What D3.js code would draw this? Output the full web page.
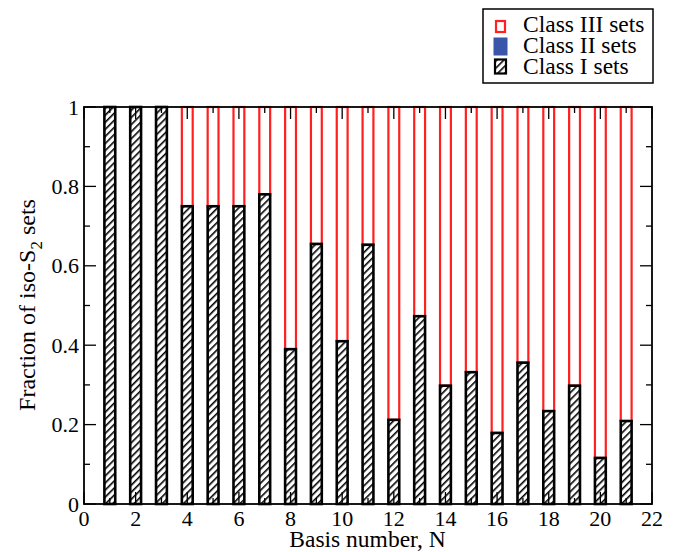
<!DOCTYPE html>
<html>
<head>
<meta charset="utf-8">
<script src="https://cdn.jsdelivr.net/npm/d3@7/dist/d3.min.js"></script>
<style>
  body { margin: 0; background: #fff; }
  text { font-family: "Liberation Serif", "Times New Roman", serif; fill: #000; }
</style>
</head>
<body>
<div id="chart"></div>
<script>
// basis number N
var basisN = [1, 2, 3, 4, 5, 6, 7, 8, 9, 10, 11, 12, 13, 14, 15, 16, 17, 18, 19, 20, 21];
// fraction of class I sets (hatched)
var classI = [1, 1, 1, 0.75, 0.75, 0.75, 0.78, 0.39, 0.655, 0.41, 0.653, 0.212, 0.473, 0.298, 0.332, 0.179, 0.356, 0.234, 0.298, 0.116, 0.209];
// fraction of class II sets (blue) - none
var classII = [0, 0, 0, 0, 0, 0, 0, 0, 0, 0, 0, 0, 0, 0, 0, 0, 0, 0, 0, 0, 0];
// fraction of class III sets (red outline), stacked on top
var classIII = [0, 0, 0, 0.25, 0.25, 0.25, 0.22, 0.61, 0.345, 0.59, 0.347, 0.788, 0.527, 0.702, 0.668, 0.821, 0.644, 0.766, 0.702, 0.884, 0.791];

var xTicks = [0, 2, 4, 6, 8, 10, 12, 14, 16, 18, 20, 22];
var yTicks = [0, 0.2, 0.4, 0.6, 0.8, 1];
var legendItems = ["Class III sets", "Class II sets", "Class I sets"];

var width = 673, height = 552;
var margin = {top: 107, right: 21, bottom: 48, left: 84};
var w = width - margin.left - margin.right;
var h = height - margin.top - margin.bottom;

var svg = d3.select("#chart").append("svg")
    .attr("width", width)
    .attr("height", height);

/***** hatch pattern *****/
var defs = svg.append("defs");
var pat = defs.append("pattern")
    .attr("id", "hatch")
    .attr("patternUnits", "userSpaceOnUse")
    .attr("width", 5)
    .attr("height", 5)
    .attr("patternTransform", "rotate(45)");
pat.append("rect").attr("width", 5).attr("height", 5).attr("fill", "#fff");
pat.append("line")
    .attr("x1", 0).attr("y1", 0).attr("x2", 0).attr("y2", 5)
    .attr("stroke", "#000").attr("stroke-width", 3.2);

var g = svg.append("g").attr("transform", "translate(" + margin.left + "," + margin.top + ")");

var x = d3.scaleLinear().domain([0, 22]).range([0, w]);
var y = d3.scaleLinear().domain([0, 1]).range([h, 0]);
var barW = x(0.42) - x(0);

var rows = basisN.map(function(n, i) {
    return {n: n, c1: classI[i], c2: classII[i], c3: classIII[i]};
});

// Class III (red outline, stacked)
g.selectAll(".c3")
    .data(rows.filter(function(d) { return d.c3 > 0; }))
    .enter().append("rect")
    .attr("class", "c3")
    .attr("x", function(d) { return x(d.n) - barW / 2; })
    .attr("y", function(d) { return y(d.c1 + d.c2 + d.c3); })
    .attr("width", barW)
    .attr("height", function(d) { return y(d.c1 + d.c2) - y(d.c1 + d.c2 + d.c3); })
    .attr("fill", "#fff")
    .attr("stroke", "#ff2020")
    .attr("stroke-width", 2.2);

// Class II (blue)
g.selectAll(".c2")
    .data(rows.filter(function(d) { return d.c2 > 0; }))
    .enter().append("rect")
    .attr("class", "c2")
    .attr("x", function(d) { return x(d.n) - barW / 2; })
    .attr("y", function(d) { return y(d.c1 + d.c2); })
    .attr("width", barW)
    .attr("height", function(d) { return y(d.c1) - y(d.c1 + d.c2); })
    .attr("fill", "#3a56a8");

// Class I (hatched)
g.selectAll(".c1")
    .data(rows)
    .enter().append("rect")
    .attr("class", "c1")
    .attr("x", function(d) { return x(d.n) - barW / 2; })
    .attr("y", function(d) { return y(d.c1); })
    .attr("width", barW)
    .attr("height", function(d) { return h - y(d.c1); })
    .attr("fill", "url(#hatch)")
    .attr("stroke", "#000")
    .attr("stroke-width", 2.6);

/***** axes, ticks inward *****/
var xMinor = d3.range(1, 22, 2);
var yMinor = [0.1, 0.3, 0.5, 0.7, 0.9];

function ticks(cls, vals, len, scale, orient) {
    g.selectAll("line." + cls)
        .data(vals)
        .enter().append("line")
        .attr("class", cls)
        .attr("stroke", "#000")
        .attr("stroke-width", 1.3)
        .each(function(d) {
            var s = d3.select(this);
            if (orient == "bottom") s.attr("x1", scale(d)).attr("x2", scale(d)).attr("y1", h).attr("y2", h - len);
            if (orient == "top") s.attr("x1", scale(d)).attr("x2", scale(d)).attr("y1", 0).attr("y2", len);
            if (orient == "left") s.attr("y1", scale(d)).attr("y2", scale(d)).attr("x1", 0).attr("x2", len);
            if (orient == "right") s.attr("y1", scale(d)).attr("y2", scale(d)).attr("x1", w).attr("x2", w - len);
        });
}
ticks("tk-xb", xTicks, 12, x, "bottom");
ticks("tk-xbm", xMinor, 6, x, "bottom");
ticks("tk-xt", xTicks, 12, x, "top");
ticks("tk-xtm", xMinor, 6, x, "top");
ticks("tk-yl", yTicks, 12, y, "left");
ticks("tk-ylm", yMinor, 6, y, "left");
ticks("tk-yr", yTicks, 12, y, "right");
ticks("tk-yrm", yMinor, 6, y, "right");

g.append("rect")
    .attr("width", w).attr("height", h)
    .attr("fill", "none").attr("stroke", "#000").attr("stroke-width", 1.8);

// tick labels
g.selectAll("text.xlab")
    .data(xTicks)
    .enter().append("text")
    .attr("class", "xlab")
    .attr("x", function(d) { return x(d); })
    .attr("y", h + 22)
    .attr("text-anchor", "middle")
    .attr("font-size", "22px")
    .text(function(d) { return d; });

g.selectAll("text.ylab")
    .data(yTicks)
    .enter().append("text")
    .attr("class", "ylab")
    .attr("x", -5)
    .attr("y", function(d) { return y(d) + 7.5; })
    .attr("text-anchor", "end")
    .attr("font-size", "22px")
    .text(function(d) { return d; });

// axis titles
svg.append("text")
    .attr("x", 367.5)
    .attr("y", 547)
    .attr("text-anchor", "middle")
    .attr("font-size", "23.5px")
    .text("Basis number, N");

var yt = svg.append("text")
    .attr("transform", "translate(35,305) rotate(-90)")
    .attr("text-anchor", "middle")
    .attr("font-size", "24px");
yt.append("tspan").text("Fraction of iso-S");
yt.append("tspan").attr("font-size", "17px").attr("dy", 7).text("2");
yt.append("tspan").attr("dy", -7).text(" sets");

/***** legend *****/
var lg = svg.append("g").attr("transform", "translate(483,9)");
lg.append("rect")
    .attr("width", 170).attr("height", 74)
    .attr("fill", "#fff").attr("stroke", "#000").attr("stroke-width", 1.5);

var symW = [9, 14, 11], symH = [11, 18, 14];
var legendRows = lg.selectAll("g.lr")
    .data(legendItems)
    .enter().append("g")
    .attr("class", "lr");

legendRows.append("rect")
    .attr("x", function(d, i) { return 17.5 - symW[i] / 2; })
    .attr("y", function(d, i) { return 17.5 + i * 20 - symH[i] / 2; })
    .attr("width", function(d, i) { return symW[i]; })
    .attr("height", function(d, i) { return symH[i]; })
    .attr("fill", function(d, i) { return i == 0 ? "#fff" : i == 1 ? "#3a56a8" : "url(#hatch)"; })
    .attr("stroke", function(d, i) { return i == 0 ? "#ff2020" : i == 1 ? "none" : "#000"; })
    .attr("stroke-width", 2.2);

legendRows.append("text")
    .attr("x", 40)
    .attr("y", function(d, i) { return 23 + i * 21; })
    .attr("font-size", "23.5px")
    .text(function(d) { return d; });
</script>
</body>
</html>
